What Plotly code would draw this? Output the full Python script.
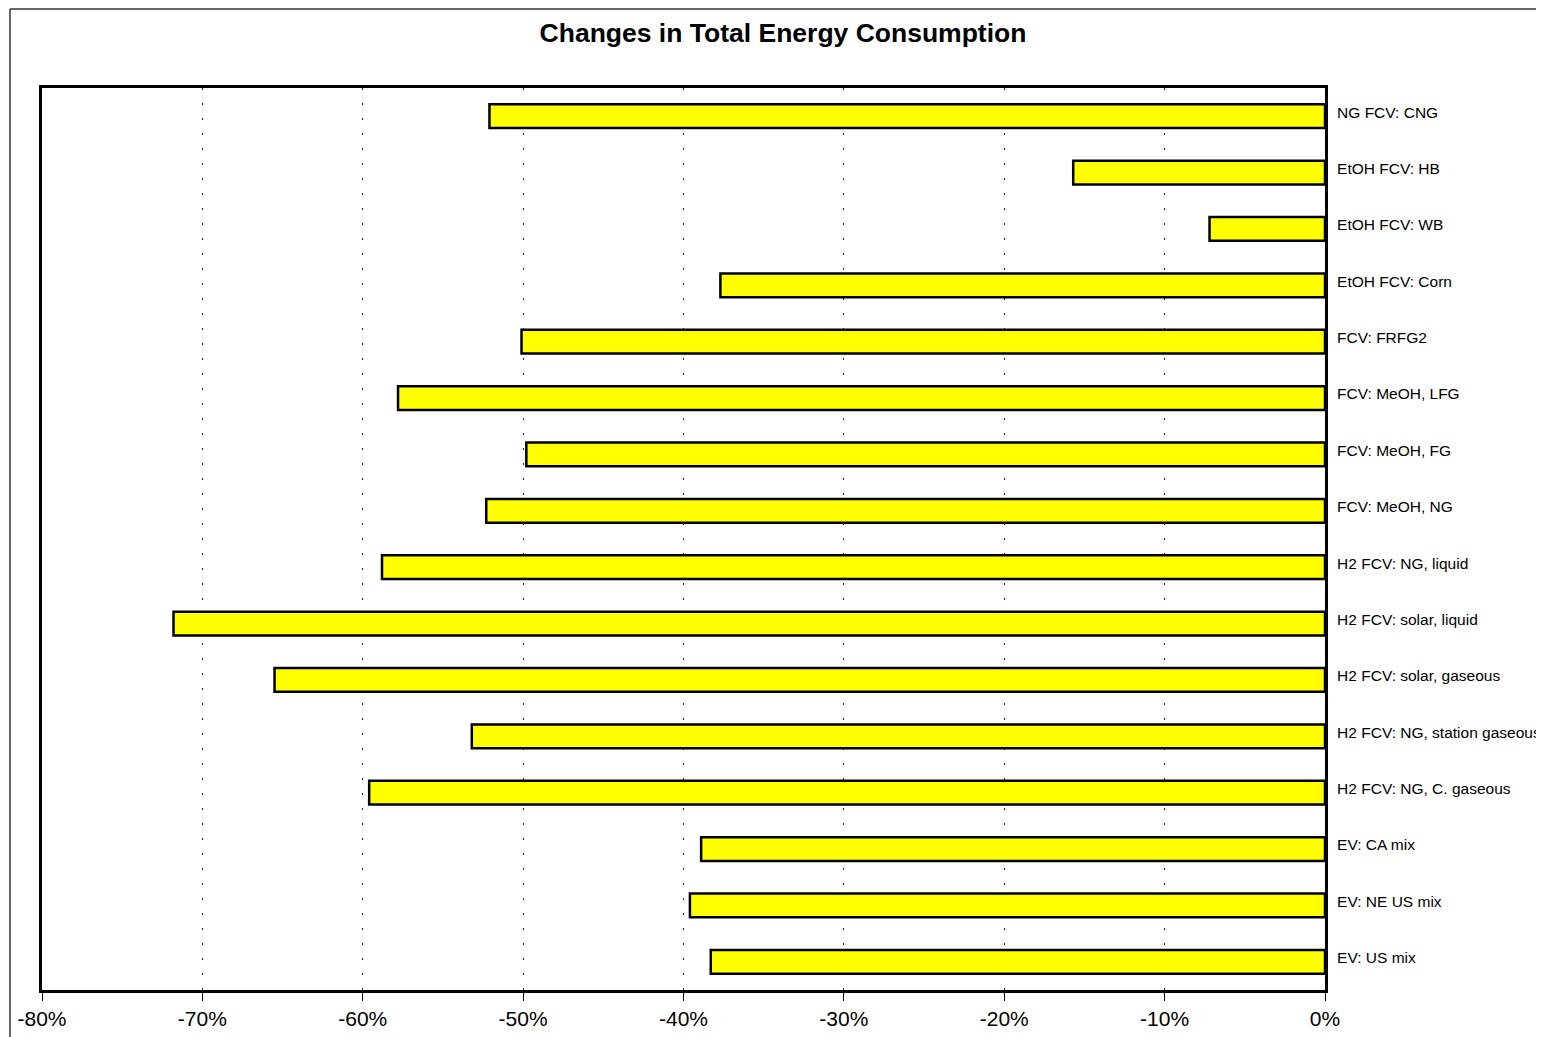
import plotly.graph_objects as go

categories = [
    "NG FCV: CNG",
    "EtOH FCV: HB",
    "EtOH FCV: WB",
    "EtOH FCV: Corn",
    "FCV: FRFG2",
    "FCV: MeOH, LFG",
    "FCV: MeOH, FG",
    "FCV: MeOH, NG",
    "H2 FCV: NG, liquid",
    "H2 FCV: solar, liquid",
    "H2 FCV: solar, gaseous",
    "H2 FCV: NG, station gaseous",
    "H2 FCV: NG, C. gaseous",
    "EV: CA mix",
    "EV: NE US mix",
    "EV: US mix",
]
changes = [-0.521, -0.157, -0.072, -0.377, -0.501, -0.578, -0.498, -0.523,
           -0.588, -0.718, -0.655, -0.532, -0.596, -0.389, -0.396, -0.383]
tick_vals = [-0.8, -0.7, -0.6, -0.5, -0.4, -0.3, -0.2, -0.1, 0.0]
tick_text = ["-80%", "-70%", "-60%", "-50%", "-40%", "-30%", "-20%", "-10%", "0%"]

fig = go.Figure(go.Bar(
    x=changes, y=categories, orientation="h",
    marker=dict(color="#ffff00", line=dict(color="black", width=2.5)),
    width=0.42,
))

OFF = 8  # page body margin in the browser
W, H = 1544 - OFF, 1037 - OFF
L, R, T, B = 42 - OFF, 1325 - OFF, 88 - OFF, 990 - OFF

fig.update_layout(
    width=W, height=H,
    margin=dict(l=L, r=W - R, t=T, b=H - B, autoexpand=False),
    paper_bgcolor="white", plot_bgcolor="white",
    font=dict(family="Liberation Sans, Arial, sans-serif", color="black"),
    showlegend=False,
    title=dict(text="<b>Changes in Total Energy Consumption</b>",
               x=(783 - OFF - L) / (R - L), xref="paper", xanchor="center",
               y=1 - (33 - OFF) / H, yanchor="middle", font=dict(size=26.5)),
    xaxis=dict(range=[-0.8, 0.0], tickvals=tick_vals, ticktext=tick_text,
               tickfont=dict(size=21), ticks="outside", ticklen=8, tickcolor="black",
               showgrid=True, gridcolor="#1a1a60", gridwidth=1.2, griddash="2px,13px",
               showline=True, linecolor="black", linewidth=3, mirror=True,
               zeroline=False, fixedrange=True),
    yaxis=dict(categoryorder="array", categoryarray=categories, autorange="reversed",
               side="right", tickfont=dict(size=15.5), ticks="", ticklabelstandoff=6,
               ticklabelshift=4,
               showline=True, linecolor="black", linewidth=3, mirror=True,
               showgrid=False, fixedrange=True),
)

# outer page frame (left and top edges)
fx = (10 - OFF - L) / (R - L)
fy = (B - (8 - OFF) - 1) / (B - T)
fig.add_shape(type="line", xref="paper", yref="paper",
              x0=fx, x1=fx, y0=fy, y1=(B - 1040) / (B - T),
              line=dict(color="#333", width=1.5))
fig.add_shape(type="line", xref="paper", yref="paper",
              x0=fx, x1=(1560 - L) / (R - L), y0=fy, y1=fy,
              line=dict(color="#333", width=1.5))

fig.write_html("out.html")
